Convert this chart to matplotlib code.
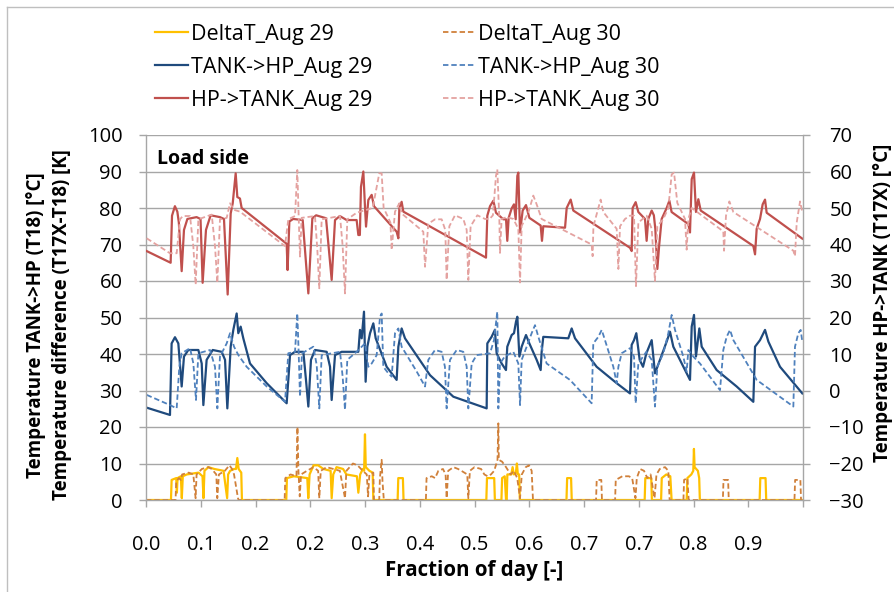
import matplotlib
matplotlib.use("Agg")
import matplotlib.pyplot as plt
from matplotlib.lines import Line2D

plt.rcParams["font.family"] = ["Open Sans", "DejaVu Sans"]

# ---- data (fraction of day, temperature) ----
xtick_labels = ["0.0", "0.1", "0.2", "0.2", "0.3", "0.4", "0.5", "0.6", "0.7", "0.7", "0.8", "0.9", ""]

# HP->TANK, right axis [°C]
hp29_x = [0.001, 0.0375, 0.0396, 0.044, 0.0477, 0.050, 0.0543, 0.0578, 0.063, 0.077, 0.083, 0.0862,
          0.0913, 0.0984, 0.1126, 0.1187, 0.1243, 0.1289, 0.132, 0.1365, 0.139, 0.143, 0.1456,
          0.2141, 0.2155, 0.2182, 0.224, 0.2385, 0.2471, 0.2532, 0.259, 0.274, 0.2826, 0.2877,
          0.295, 0.3054, 0.3206, 0.3232, 0.3255, 0.3272, 0.3308, 0.3333, 0.3349, 0.3384, 0.3435,
          0.347, 0.3815, 0.3841, 0.3856, 0.3891, 0.3917, 0.5175, 0.5195, 0.5236, 0.5287, 0.5327,
          0.5439, 0.548, 0.5499, 0.552, 0.5566, 0.5601, 0.5627, 0.5652, 0.5667, 0.5693, 0.5733,
          0.5784, 0.5835, 0.6007, 0.6027, 0.6047, 0.6378, 0.6403, 0.6464, 0.6504, 0.7367, 0.7392,
          0.7407, 0.7453, 0.7494, 0.7595, 0.762, 0.7645, 0.7697, 0.773, 0.7752, 0.7783, 0.781,
          0.7849, 0.7925, 0.7966, 0.800, 0.8255, 0.828, 0.8306, 0.8341, 0.8371, 0.8407, 0.8443,
          0.9244, 0.927, 0.9295, 0.9346, 0.9386, 0.9422, 0.9447, 0.999]
hp29_y = [38.2, 35.0, 47.9, 50.5, 49.0, 46.0, 32.7, 44.0, 47.0, 47.5, 47.0, 29.5,
          44.0, 48.0, 47.5, 47.0, 26.3, 48.5, 51.3, 59.5, 53.0, 52.6, 50.0,
          40.2, 33.0, 46.3, 47.0, 46.7, 26.6, 47.2, 48.0, 47.2, 30.3, 46.7,
          47.8, 46.7, 46.7, 42.6, 42.6, 55.8, 60.0, 50.4, 44.9, 52.2, 53.6,
          50.5, 43.5, 41.7, 49.9, 51.7, 49.0, 36.4, 47.9, 50.5, 52.0, 48.7,
          46.9, 46.9, 41.0, 47.3, 49.9, 51.0, 46.9, 58.8, 59.7, 43.3, 49.3,
          50.8, 47.3, 45.2, 41.0, 45.0, 44.6, 50.0, 52.3, 49.3, 39.1, 38.2,
          50.0, 51.6, 48.9, 47.0, 41.0, 47.0, 49.3, 48.0, 44.3, 33.3, 39.6,
          47.0, 50.0, 52.0, 48.9, 45.6, 43.3, 57.9, 59.7, 48.9, 52.4, 49.3,
          39.6, 37.3, 44.3, 47.0, 51.0, 52.3, 48.7, 41.6]

hp30_x = [0.001, 0.0365, 0.0467, 0.0517, 0.056, 0.067, 0.072, 0.0756, 0.0797, 0.100, 0.105, 0.1086,
          0.1126, 0.1228, 0.1279, 0.134, 0.1431, 0.209, 0.2115, 0.2166, 0.2268, 0.2303, 0.2325,
          0.2344, 0.2369, 0.2572, 0.2608, 0.2638, 0.2674, 0.2953, 0.2993, 0.3029, 0.3064, 0.3206,
          0.326, 0.3359, 0.345, 0.3551, 0.3587, 0.3617, 0.367, 0.372, 0.3739, 0.379, 0.3856, 0.3891,
          0.4221, 0.4247, 0.4297, 0.440, 0.450, 0.4555, 0.4576, 0.4617, 0.4703, 0.4830, 0.4881,
          0.4906, 0.4941, 0.5043, 0.516, 0.523, 0.528, 0.5327, 0.5347, 0.5378, 0.5388, 0.5413,
          0.5490, 0.5591, 0.5667, 0.5693, 0.5718, 0.582, 0.5895, 0.5946, 0.6022, 0.6783, 0.6798,
          0.681, 0.6885, 0.692, 0.696, 0.7164, 0.719, 0.7215, 0.7291, 0.7367, 0.7428, 0.7458,
          0.7494, 0.762, 0.7697, 0.7747, 0.7783, 0.7874, 0.795, 0.8001, 0.8037, 0.8087, 0.8204,
          0.8229, 0.8255, 0.8306, 0.8787, 0.8798, 0.8828, 0.8879, 0.894, 0.9853, 0.9878, 0.9904,
          0.9955, 0.999]
hp30_y = [41.7, 37.6, 37.6, 46.9, 47.8, 47.8, 39.6, 29.0, 46.9, 48.2, 39.6, 29.5,
          46.9, 47.3, 51.3, 49.5, 49.0, 39.9, 39.6, 46.9, 47.8, 60.4, 46.9,
          36.7, 47.3, 47.8, 38.5, 28.0, 46.9, 47.8, 39.6, 26.6, 46.9, 48.7,
          49.0, 49.5, 50.0, 59.5, 59.5, 50.0, 48.0, 46.0, 38.5, 49.0, 51.3, 48.5,
          43.5, 33.9, 45.7, 46.9, 46.9, 44.0, 30.3, 45.0, 48.0, 47.0, 44.0,
          30.3, 45.0, 48.0, 47.0, 47.0, 48.0, 58.8, 60.6, 47.0, 37.7, 47.0,
          47.5, 47.0, 44.3, 29.6, 45.1, 48.8, 53.4, 51.0, 47.0, 40.0, 36.8,
          45.0, 50.0, 52.3, 48.9, 44.3, 33.3, 45.0, 47.0, 47.9, 47.9, 28.6,
          46.0, 47.9, 44.3, 30.0, 45.0, 47.0, 50.0, 59.2, 59.7, 51.4, 47.0,
          38.6, 47.0, 50.0, 43.6, 38.3, 47.9, 51.8, 48.9, 38.3, 36.8, 46.0,
          51.8, 48.9]

# TANK->HP, left axis [°C]
tk29_x = [0.001, 0.0365, 0.039, 0.0441, 0.0492, 0.0543, 0.0578, 0.0644, 0.0797, 0.0848, 0.0873,
          0.0923, 0.1015, 0.1152, 0.1203, 0.1238, 0.1289, 0.1329, 0.138, 0.1405, 0.1441, 0.1481,
          0.1583, 0.1837, 0.2141, 0.2166, 0.2192, 0.2268, 0.2395, 0.2435, 0.2471, 0.2511, 0.2572,
          0.275, 0.2801, 0.2826, 0.2877, 0.2978, 0.3232, 0.3257, 0.3283, 0.3318, 0.3343, 0.3369,
          0.341, 0.346, 0.3496, 0.3663, 0.3815, 0.3841, 0.3891, 0.3942, 0.4323, 0.4678, 0.5185,
          0.5195, 0.526, 0.531, 0.5337, 0.5413, 0.5479, 0.5499, 0.5566, 0.5601, 0.5632, 0.5652,
          0.5683, 0.5718, 0.5784, 0.5835, 0.5946, 0.6007, 0.6022, 0.6047, 0.6428, 0.6479, 0.653,
          0.6859, 0.7164, 0.7367, 0.7392, 0.7428, 0.7463, 0.7514, 0.7565, 0.7616, 0.7697, 0.7722,
          0.7747, 0.7823, 0.7925, 0.7976, 0.8026, 0.828, 0.8306, 0.8341, 0.8371, 0.8422, 0.8458,
          0.8686, 0.899, 0.9244, 0.927, 0.9346, 0.9422, 0.9473, 0.965, 0.999]
tk29_y = [25.3, 23.3, 42.9, 44.6, 42.9, 31.1, 39.3, 41.1, 41.1, 37.4, 26.0,
          38.4, 41.1, 40.6, 38.4, 25.1, 42.0, 46.6, 51.1, 45.7, 47.5, 44.3,
          37.4, 32.0, 26.5, 32.9, 39.7, 40.6, 40.6, 32.9, 25.6, 38.4, 41.1,
          40.6, 36.5, 27.4, 39.7, 40.6, 40.6, 46.6, 44.3, 51.6, 32.4, 42.0,
          45.7, 48.4, 44.3, 36.5, 32.9, 42.0, 47.0, 44.3, 34.2, 28.3, 25.1,
          42.9, 44.7, 46.6, 40.2, 37.4, 35.6, 42.0, 45.2, 45.7, 48.9, 50.2,
          39.3, 42.0, 45.2, 42.9, 38.4, 35.6, 40.6, 44.7, 44.3, 47.0, 44.3,
          36.5, 32.0, 29.2, 42.5, 43.8, 45.7, 38.4, 36.5, 40.2, 43.8, 39.3,
          34.7, 38.4, 43.4, 46.1, 42.0, 32.9, 47.5, 50.7, 39.3, 47.0, 42.0,
          35.6, 31.1, 26.9, 42.0, 43.8, 46.6, 43.4, 36.5, 29.2]

tk30_x = [0.001, 0.0365, 0.0467, 0.0507, 0.0543, 0.067, 0.0721, 0.0761, 0.0797, 0.0974, 0.1050,
          0.1086, 0.1126, 0.1228, 0.1279, 0.134, 0.1406, 0.1532, 0.1837, 0.2116, 0.2166, 0.2268,
          0.2303, 0.2324, 0.2344, 0.2374, 0.2547, 0.2598, 0.2638, 0.2674, 0.2953, 0.2993, 0.3029,
          0.3064, 0.3206, 0.3333, 0.3384, 0.3435, 0.3511, 0.3562, 0.3587, 0.3612, 0.3689, 0.3739,
          0.379, 0.3841, 0.3891, 0.412, 0.4247, 0.4297, 0.4399, 0.45, 0.455, 0.4576, 0.4627,
          0.4729, 0.483, 0.4881, 0.4906, 0.4957, 0.5033, 0.5236, 0.5297, 0.5347, 0.5363, 0.5388,
          0.546, 0.5591, 0.5667, 0.5693, 0.5718, 0.5794, 0.587, 0.5921, 0.5972, 0.6098, 0.6453,
          0.6783, 0.6808, 0.6885, 0.6936, 0.6986, 0.7113, 0.7164, 0.719, 0.724, 0.7367, 0.7428,
          0.7453, 0.7494, 0.7615, 0.7697, 0.7747, 0.7783, 0.7874, 0.795, 0.8001, 0.8052, 0.8178,
          0.8229, 0.8255, 0.833, 0.8432, 0.8737, 0.8787, 0.8838, 0.8889, 0.894, 0.9295, 0.9853,
          0.9878, 0.9929, 0.9964, 0.999]
tk30_y = [28.8, 26.0, 25.1, 36.5, 40.2, 41.6, 37.4, 27.4, 40.2, 41.1, 36.5,
          25.1, 39.3, 42.9, 45.7, 42.0, 39.7, 36.5, 31.1, 26.9, 40.2, 40.6,
          51.1, 40.2, 28.3, 40.2, 42.0, 37.0, 25.1, 39.7, 40.6, 33.8, 24.7,
          38.4, 40.6, 42.9, 36.5, 37.4, 39.7, 50.2, 51.1, 36.5, 34.7, 33.8,
          45.7, 47.0, 42.0, 35.2, 31.1, 38.4, 41.1, 40.6, 36.5, 25.1, 38.4,
          41.1, 40.6, 36.5, 25.1, 37.4, 39.7, 40.2, 43.8, 51.6, 25.1, 37.4,
          39.3, 40.6, 37.4, 26.0, 38.4, 42.0, 45.7, 47.9, 44.7, 37.4, 32.9,
          26.5, 42.9, 44.7, 46.6, 43.8, 36.5, 32.0, 36.5, 40.2, 41.6, 39.3,
          26.5, 37.4, 40.6, 38.4, 25.6, 36.5, 40.2, 45.7, 50.7, 46.6, 39.3,
          35.2, 41.1, 39.3, 37.4, 30.1, 41.1, 44.7, 46.6, 43.8, 32.9, 25.6,
          42.0, 45.7, 46.6, 43.4]

# DeltaT, left axis [K]
dt29_x = [0.0, 0.038, 0.039, 0.046, 0.047, 0.048, 0.053, 0.0545, 0.056, 0.062, 0.080, 0.086, 0.0875,
          0.089, 0.095, 0.104, 0.118, 0.1235, 0.125, 0.128, 0.134, 0.137, 0.139, 0.141, 0.145,
          0.146, 0.2135, 0.2145, 0.225, 0.2455, 0.247, 0.249, 0.255, 0.262, 0.27, 0.281, 0.2826,
          0.285, 0.29, 0.30, 0.305, 0.321, 0.3232, 0.326, 0.33, 0.332, 0.3333, 0.3345, 0.34, 0.345,
          0.346, 0.383, 0.384, 0.391, 0.392, 0.518, 0.519, 0.530, 0.531, 0.541, 0.542, 0.546,
          0.548, 0.549, 0.550, 0.556, 0.558, 0.560, 0.563, 0.5645, 0.566, 0.568, 0.569, 0.640,
          0.641, 0.647, 0.648, 0.759, 0.760, 0.769, 0.770, 0.784, 0.785, 0.792, 0.798, 0.800,
          0.823, 0.824, 0.830, 0.833, 0.834, 0.835, 0.840, 0.842, 0.843, 0.934, 0.935, 0.943,
          0.944, 0.999]
dt29_y = [0.0, 0.0, 5.5, 6.0, 2.0, 6.0, 6.5, 0.5, 6.5, 7.0, 7.5, 6.5, 0.5,
          8.0, 9.0, 8.5, 8.0, 0.5, 7.0, 8.0, 8.5, 8.5, 11.5, 8.5, 7.5,
          0.0, 0.0, 6.0, 6.5, 6.0, 0.5, 7.0, 9.5, 9.5, 8.5, 8.0, 0.5,
          7.0, 9.0, 8.5, 7.0, 6.5, 2.0, 7.0, 8.5, 8.0, 18.0, 9.0, 8.0, 7.5,
          0.0, 0.0, 6.0, 6.0, 0.0, 0.0, 6.0, 6.0, 0.0, 0.0, 6.0, 6.5,
          0.0, 0.0, 7.0, 7.0, 9.0, 7.0, 7.5, 10.0, 7.0, 7.0, 0.0, 0.0,
          6.0, 6.0, 0.0, 0.0, 6.0, 6.0, 0.0, 0.0, 6.0, 7.0, 6.5, 0.0,
          0.0, 6.0, 7.0, 8.0, 14.0, 9.0, 8.0, 6.0, 0.0, 0.0, 6.0, 6.0,
          0.0, 0.0]

dt30_x = [0.0, 0.045, 0.046, 0.050, 0.053, 0.055, 0.065, 0.072, 0.0755, 0.077, 0.085, 0.095, 0.100,
          0.107, 0.1085, 0.111, 0.120, 0.127, 0.131, 0.134, 0.140, 0.141, 0.211, 0.212, 0.220,
          0.229, 0.2305, 0.232, 0.234, 0.236, 0.245, 0.255, 0.262, 0.2638, 0.266, 0.275, 0.285,
          0.295, 0.3029, 0.305, 0.315, 0.322, 0.330, 0.336, 0.338, 0.340, 0.346, 0.347, 0.355,
          0.356, 0.3587, 0.360, 0.362, 0.426, 0.427, 0.435, 0.440, 0.445, 0.452, 0.456, 0.4576,
          0.460, 0.468, 0.475, 0.480, 0.489, 0.4906, 0.493, 0.500, 0.510, 0.515, 0.520, 0.525,
          0.530, 0.535, 0.5363, 0.537, 0.542, 0.548, 0.555, 0.560, 0.565, 0.5693, 0.572, 0.578,
          0.583, 0.587, 0.589, 0.685, 0.686, 0.693, 0.694, 0.714, 0.715, 0.720, 0.725, 0.735,
          0.740, 0.745, 0.747, 0.752, 0.758, 0.763, 0.768, 0.774, 0.777, 0.782, 0.790, 0.795,
          0.797, 0.818, 0.819, 0.824, 0.826, 0.878, 0.879, 0.886, 0.887, 0.987, 0.988, 0.996,
          0.997, 0.999]
dt30_y = [0.0, 0.0, 5.0, 6.0, 5.5, 7.0, 7.5, 7.0, 0.5, 7.0, 8.5, 9.0, 8.5,
          7.0, 0.5, 7.0, 8.0, 9.5, 8.5, 7.0, 0.5, 0.0, 0.0, 6.0, 7.0,
          6.5, 20.0, 8.0, 1.0, 7.0, 8.0, 9.0, 8.0, 0.5, 8.0, 9.0, 8.5,
          8.0, 0.5, 8.0, 10.0, 9.5, 8.0, 7.0, 1.0, 7.0, 7.5, 0.0, 0.0,
          6.0, 11.0, 5.0, 0.0, 0.0, 6.0, 6.5, 6.0, 8.0, 8.5, 7.0, 0.5,
          8.0, 9.0, 8.5, 8.0, 7.0, 0.5, 8.0, 9.0, 8.5, 7.0, 6.5, 7.0,
          8.0, 11.0, 21.0, 11.0, 10.5, 9.0, 7.0, 8.0, 6.0, 0.5, 7.0, 9.0,
          9.5, 8.0, 0.0, 0.0, 5.5, 5.5, 0.0, 0.0, 5.5, 6.0, 6.5, 6.5,
          6.0, 0.5, 6.0, 8.5, 8.0, 6.0, 7.0, 0.5, 7.0, 8.5, 9.0, 8.0,
          0.0, 0.0, 5.5, 6.0, 0.0, 0.0, 5.5, 5.5, 0.0, 0.0, 5.5, 5.5,
          0.0, 0.0]

# ---- figure ----
W, H = 894, 592
fig = plt.figure(figsize=(W / 100, H / 100), dpi=100)
ax = fig.add_axes([146 / W, 1 - 500 / H, 657 / W, 365 / H])
ax2 = ax.twinx()

grid_c = "#A6A6A6"
dash = (0, (3, 1.6))

ax.plot(dt29_x, dt29_y, color="#FFC000", lw=1.6, label="DeltaT_Aug 29")
ax.plot(dt30_x, dt30_y, color="#D0803A", lw=1.3, ls=dash, label="DeltaT_Aug 30")
ax.plot(tk29_x, tk29_y, color="#1F4A7D", lw=1.6, label="TANK->HP_Aug 29")
ax.plot(tk30_x, tk30_y, color="#4F81BD", lw=1.3, ls=dash, label="TANK->HP_Aug 30")
ax2.plot(hp29_x, hp29_y, color="#C0504D", lw=1.6, label="HP->TANK_Aug 29")
ax2.plot(hp30_x, hp30_y, color="#E4A2A0", lw=1.3, ls=dash, label="HP->TANK_Aug 30")

ax.set_xlim(0, 1)
ax.set_ylim(0, 100)
ax2.set_ylim(-30, 70)
ax.set_xticks([k / 12 for k in range(13)])
ax.set_xticklabels(xtick_labels)
ax.set_yticks(range(0, 101, 10))
ax2.set_yticks(range(-30, 71, 10))
ax.grid(axis="y", color=grid_c, lw=1.0)
ax.set_axisbelow(True)

for s in ["top", "right"]:
    ax.spines[s].set_visible(False)
for s in ["top", "left", "bottom"]:
    ax2.spines[s].set_visible(False)
for sp in [ax.spines["left"], ax.spines["bottom"], ax2.spines["right"]]:
    sp.set_color(grid_c)
    sp.set_linewidth(1.0)

ax.tick_params(axis="both", labelsize=14.5, color=grid_c, length=5, width=1, pad=12)
ax.tick_params(axis="x", pad=20)
ax2.tick_params(axis="y", labelsize=14.5, color=grid_c, length=5, width=1, pad=14)

ax.set_xlabel("Fraction of day [-]", fontsize=14.8, fontweight="bold", labelpad=4)
ax.set_ylabel("Temperature TANK->HP (T18) [°C]\nTemperature difference (T17X-T18) [K]",
              fontsize=13.5, fontweight="bold", linespacing=1.4)
ax.yaxis.set_label_coords(-0.112, 0.48)
ax2.set_ylabel("Temperature HP->TANK (T17X) [°C]", fontsize=13.5, fontweight="bold")
ax2.yaxis.set_label_coords(1.106, 0.54)

ax.text(0.016, 0.935, "Load side", transform=ax.transAxes, fontsize=14, fontweight="bold",
        va="center", ha="left")

h1, l1 = ax.get_legend_handles_labels()
h2, l2 = ax2.get_legend_handles_labels()
handles = [h1[0], h1[2], h2[0], h1[1], h1[3], h2[1]]
labels = [l1[0], l1[2], l2[0], l1[1], l1[3], l2[1]]
fig.legend(handles, labels, loc="upper left", bbox_to_anchor=(155 / W, 1 - 24 / H), ncol=2,
           frameon=False, fontsize=15.5, handlelength=1.55, handletextpad=0.1,
           columnspacing=3.3, labelspacing=0.55, borderpad=0, borderaxespad=0)

# chart area border
fig.add_artist(Line2D([7 / W, 7 / W], [0, 1 - 7 / H], color="#BFBFBF", lw=1, transform=fig.transFigure))
fig.add_artist(Line2D([7 / W, 1], [1 - 7 / H, 1 - 7 / H], color="#BFBFBF", lw=1, transform=fig.transFigure))

fig.savefig("out.png", dpi=100)
